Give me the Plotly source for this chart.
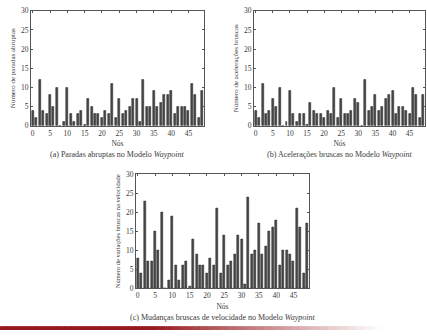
import plotly.graph_objects as go

nodes = list(range(50))
paradas = [4, 2, 12, 4, 3, 8, 5, 10, 0, 1, 10, 3, 1, 3, 4, 0.3, 7, 5, 3, 3,
           2, 4, 3, 11, 2, 7, 3, 4, 5, 7, 7, 1, 12, 5, 5, 9, 5, 6, 8, 8,
           9, 3, 5, 5, 5, 4, 11, 8, 2, 9]
aceleracoes = [4, 2, 11, 3, 4, 7, 5, 10, 0, 1, 9, 3, 1, 3, 3, 0.3, 6, 4, 3, 3,
               2, 4, 3, 10, 2, 7, 3, 3, 4, 7, 6, 0, 12, 4, 5, 8, 4, 5, 7, 8,
               9, 3, 5, 5, 4, 3, 10, 8, 2, 8]
velocidade = [8, 4, 23, 7, 7, 15, 10, 20, 0, 2, 19, 6, 2, 6, 7, 0.4, 13, 9, 6, 6,
              4, 8, 6, 21, 4, 14, 6, 7, 9, 14, 13, 1, 24, 9, 10, 17, 9, 11, 15, 16,
              18, 6, 10, 10, 9, 7, 21, 16, 4, 17]

x_ticks = [0, 5, 10, 15, 20, 25, 30, 35, 40, 45]
y_ticks = [0, 5, 10, 15, 20, 25, 30]

y_titles = ["Número de paradas abruptas",
            "Número de acelerações bruscas",
            "Número de variações bruscas na velocidade"]
captions = ["(a) Paradas abruptas no Modelo <i>Waypoint</i>",
            "(b) Acelerações bruscas no Modelo <i>Waypoint</i>",
            "(c) Mudanças bruscas de velocidade no Modelo <i>Waypoint</i>"]
x_title = "Nós"

W, H = 427, 336
FONT = "Liberation Serif"
TXT = "#3a3a3a"

fig = go.Figure()
series = [paradas, aceleracoes, velocidade]
for i, s in enumerate(series):
    sfx = "" if i == 0 else str(i + 1)
    fig.add_trace(go.Bar(x=nodes, y=s, width=0.58,
                         marker=dict(color="#4a4a4a", line=dict(color="#222", width=0.5)),
                         xaxis="x" + sfx, yaxis="y" + sfx, showlegend=False))

# plot-area boxes in pixels: (left, right, top, bottom)
boxes = [(31, 204, 7, 125), (254, 425, 7, 125), (136, 309, 175, 292)]
ytitle_sizes = [7, 7, 6.5]

def ax_common():
    return dict(showline=True, linecolor="#555", linewidth=1, mirror="allticks",
                ticks="inside", ticklen=2, tickcolor="#555", showgrid=False,
                zeroline=False, tickfont=dict(family=FONT, size=7.5, color=TXT))

layout = dict(width=W, height=H, margin=dict(l=0, r=0, t=0, b=0),
              paper_bgcolor="white", plot_bgcolor="white", bargap=0,
              font=dict(family=FONT, color=TXT))
annotations = []
for i, (l, r, t, b) in enumerate(boxes):
    sfx = "" if i == 0 else str(i + 1)
    xa = ax_common()
    xa.update(domain=[l / W, r / W], range=[-0.5, 49.5], tickvals=x_ticks,
              anchor="y" + sfx,
              title=dict(text=x_title, font=dict(family=FONT, size=7.5, color=TXT), standoff=4))
    ya = ax_common()
    ya.update(domain=[1 - b / H, 1 - t / H], range=[0, 30], tickvals=y_ticks,
              anchor="x" + sfx,
              title=dict(text=y_titles[i], font=dict(family=FONT, size=ytitle_sizes[i], color=TXT),
                         standoff=4))
    layout["xaxis" + sfx] = xa
    layout["yaxis" + sfx] = ya
    annotations.append(dict(text=captions[i], xref="paper", yref="paper",
                            x=(l + r) / 2 / W, y=1 - (b + 30) / H, showarrow=False,
                            xanchor="center", yanchor="middle",
                            font=dict(family=FONT, size=8, color=TXT)))
layout["annotations"] = annotations

# decorative red gradient footer line
shapes = []
n = 60
c0 = (150, 25, 30)
for k in range(n):
    f = k / (n - 1)
    fade = min(1.0, max(0.0, (f - 0.35) / 0.55))
    col = tuple(int(c + (255 - c) * fade) for c in c0)
    shapes.append(dict(type="rect", xref="paper", yref="paper",
                       x0=k / n, x1=(k + 1) / n + 0.002, y0=1 - 335 / H, y1=1 - 331 / H,
                       fillcolor="rgb(%d,%d,%d)" % col, line=dict(width=0), layer="above"))
layout["shapes"] = shapes

fig.update_layout(**layout)
fig.write_html("out.html")
